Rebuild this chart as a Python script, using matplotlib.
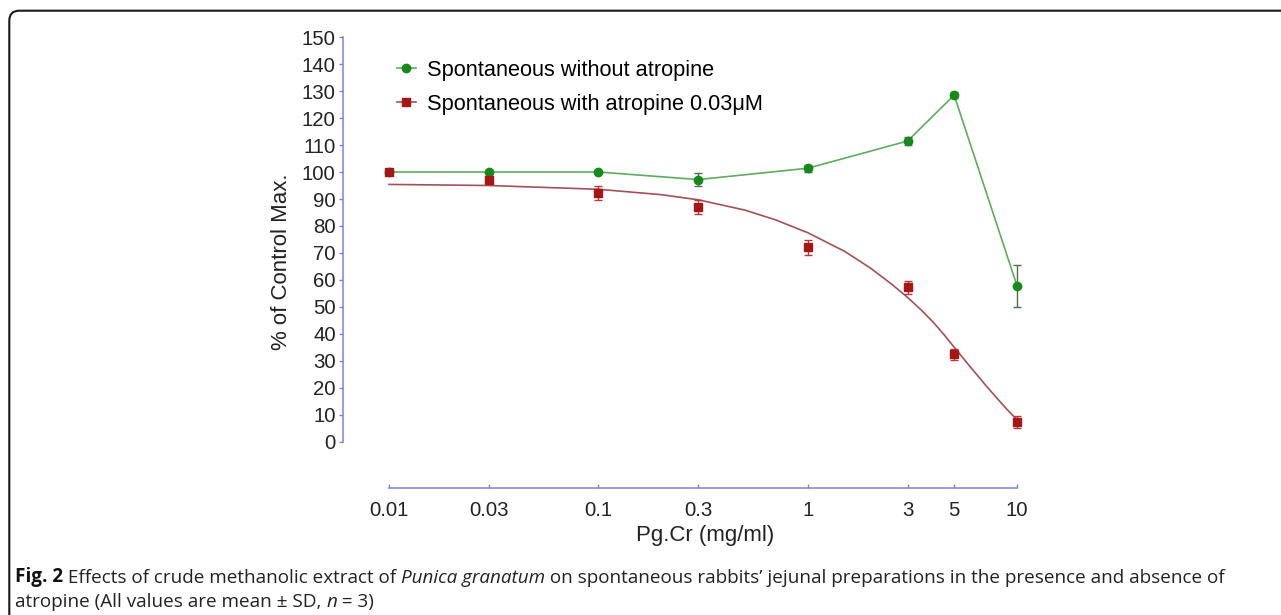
import matplotlib
matplotlib.use("Agg")
import matplotlib.pyplot as plt
from matplotlib.lines import Line2D
from matplotlib.patches import FancyBboxPatch
from matplotlib.transforms import IdentityTransform

# concentraciones (mg/ml)
dosis = [0.01, 0.03, 0.1, 0.3, 1, 3, 5, 10]
etiquetas_x = ["0.01", "0.03", "0.1", "0.3", "1", "3", "5", "10"]

# sin atropina
sin_atropina = [100, 100, 100, 97.2, 101.4, 111.5, 128.5, 57.7]
sin_atropina_sd = [0.5, 0.5, 0.5, 2.4, 1.3, 1.5, 1.2, 7.9]

# con atropina 0.03 uM
con_atropina = [100, 97.1, 92.3, 87.1, 72.1, 57.3, 32.4, 7.4]
con_atropina_sd = [0.5, 1.6, 2.6, 2.5, 2.7, 2.5, 2.0, 2.2]

# curva ajustada
curva_x = [0.01, 0.03, 0.1, 0.2, 0.3, 0.5, 0.7, 1, 1.5, 2, 2.5, 3, 3.5, 4,
           4.5, 5, 6, 7, 8, 9, 10]
curva_y = [95.4, 95.0, 93.6, 91.6, 89.7, 85.9, 82.3, 77.5, 70.6, 64.3, 58.6,
           53.5, 48.7, 44.1, 39.5, 35.1, 27.6, 21.4, 16.2, 11.8, 8.1]

ticks_y = list(range(0, 151, 10))

verde = "#17891b"
verde_linea = "#5cad5c"
rojo = "#a51616"
rojo_linea = "#a45058"
azul = "#8080d8"

W, H = 1281, 615
fig = plt.figure(figsize=(W / 100, H / 100), dpi=100)

# ejes en pixeles
izq, der, arriba, abajo = 342.6, 1021.6, 36.0, 488.3
ax = fig.add_axes([izq / W, 1 - abajo / H, (der - izq) / W, (abajo - arriba) / H])
ax.set_xscale("log")
ax.set_xlim(0.006, 10.5)
ax.set_ylim(-17.2, 150.4)

ax.plot(dosis, sin_atropina, color=verde_linea, lw=1.2, zorder=2)
ax.errorbar(dosis, sin_atropina, yerr=sin_atropina_sd, fmt="o", color=verde,
            ms=6, ecolor="#4d6e4d", elinewidth=1, capsize=3, capthick=1,
            zorder=3, clip_on=False)

ax.plot(curva_x, curva_y, color=rojo_linea, lw=1.2, zorder=2)
ax.errorbar(dosis, con_atropina, yerr=con_atropina_sd, fmt="s", color=rojo,
            ms=5.5, ecolor="#b83838", elinewidth=1, capsize=3, capthick=1,
            zorder=4, clip_on=False)

for lado in ["top", "right"]:
    ax.spines[lado].set_visible(False)
ax.spines["left"].set_bounds(0, 150)
ax.spines["bottom"].set_bounds(0.01, 10)
for lado in ["left", "bottom"]:
    ax.spines[lado].set_color(azul)
    ax.spines[lado].set_linewidth(1.1)

fuente = "Liberation Sans"
ax.set_yticks(ticks_y)
ax.set_yticklabels([str(t) for t in ticks_y], family=fuente, fontsize=14.7)
ax.set_xticks(dosis)
ax.set_xticklabels(etiquetas_x, family=fuente, fontsize=14.7)
ax.xaxis.set_minor_locator(plt.NullLocator())
ax.tick_params(axis="y", direction="out", length=3, width=1, color=azul,
               labelcolor="#222222", pad=2)
ax.tick_params(axis="x", direction="in", length=3, width=1, color=azul,
               labelcolor="#222222", pad=9)

ax.set_ylabel("% of Control Max.", family=fuente, fontsize=16, color="#222222",
              labelpad=7)
ax.set_xlabel("Pg.Cr (mg/ml)", family=fuente, fontsize=16, color="#222222")
ax.xaxis.set_label_coords(0.534, -0.081)

handles = [
    Line2D([], [], color=verde_linea, lw=1.2, marker="o", ms=6,
           markerfacecolor=verde, markeredgecolor=verde),
    Line2D([], [], color=rojo_linea, lw=1.2, marker="s", ms=5.5,
           markerfacecolor=rojo, markeredgecolor=rojo),
]
ax.legend(handles, ["Spontaneous without atropine", "Spontaneous with atropine 0.03\u03bcM"],
          loc="upper left", bbox_to_anchor=(0.0797, 0.947), frameon=False,
          prop={"family": fuente, "size": 15.7}, handlelength=0.88,
          handletextpad=0.5, labelspacing=0.58, borderpad=0, borderaxespad=0)

# marco redondeado (cortado a la derecha y abajo)
marco = FancyBboxPatch((9.3, -60), 1400, H - 10.7 + 60,
                       boxstyle="round,pad=0,rounding_size=10",
                       transform=IdentityTransform(), fill=False,
                       edgecolor="#1a1a1a", lw=1.5, clip_on=False)
fig.add_artist(marco)

# pie de figura con estilos mezclados
cap = "Open Sans"
tam = 13.6


def pieza(texto, anterior, **kw):
    # pega el texto a la derecha del anterior
    return ax.annotate(texto, xy=(1, 0), xycoords=anterior, ha="left", va="bottom",
                       family=cap, fontsize=tam, color="#222222",
                       annotation_clip=False, **kw)


t = fig.text(15 / W, 1 - 587 / H, "Fig. 2", family=cap, fontsize=tam,
             weight="bold", color="#111111", ha="left", va="bottom")
t = pieza(" Effects of crude methanolic extract of ", t)
t = pieza("Punica granatum", t, style="italic")
t = pieza(" on spontaneous rabbits\u2019 jejunal preparations in the presence and absence of", t)

t = fig.text(15 / W, 1 - 611 / H, "atropine (All values are mean \u00b1 SD, ",
             family=cap, fontsize=tam, color="#222222", ha="left", va="bottom")
t = pieza("n", t, style="italic")
t = pieza(" = 3)", t)

fig.savefig("out.png", dpi=100)
